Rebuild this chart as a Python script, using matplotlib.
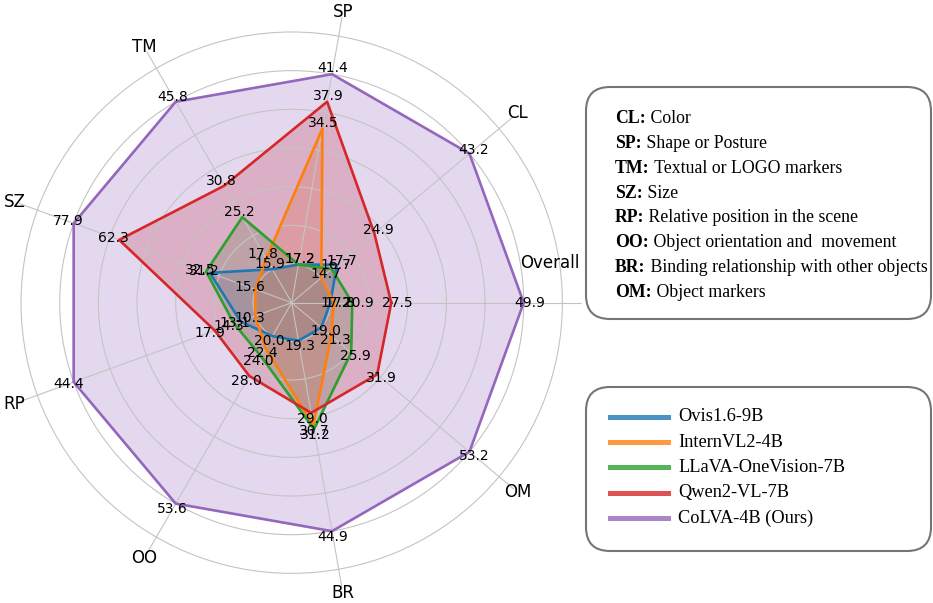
import numpy as np
import matplotlib.pyplot as plt
from matplotlib.patches import FancyBboxPatch
from matplotlib.lines import Line2D

# axes of the radar, counter-clockwise from the right
categories = ['Overall', 'CL', 'SP', 'TM', 'SZ', 'RP', 'OO', 'BR', 'OM']
models = ['Ovis1.6-9B', 'InternVL2-4B', 'LLaVA-OneVision-7B', 'Qwen2-VL-7B', 'CoLVA-4B (Ours)']
ovis = [17.2, 17.7, 17.2, 15.9, 31.2, 13.1, 20.0, 19.3, 19.0]
internvl = [17.8, 14.7, 34.5, 17.8, 15.6, 10.3, 22.4, 30.7, 21.3]
llava = [20.9, 16.7, 17.2, 25.2, 32.5, 14.3, 24.0, 31.2, 25.9]
qwen = [27.5, 24.9, 37.9, 30.8, 62.3, 17.9, 28.0, 29.0, 31.9]
colva = [49.9, 43.2, 41.4, 45.8, 77.9, 44.4, 53.6, 44.9, 53.2]
colors = ['#1f77b4', '#ff7f0e', '#2ca02c', '#d62728', '#9467bd']

abbr_keys = ['CL', 'SP', 'TM', 'SZ', 'RP', 'OO', 'BR', 'OM']
abbr_desc = ['Color', 'Shape or Posture', 'Textual or LOGO markers', 'Size',
             'Relative position in the scene', 'Object orientation and  movement',
             'Binding relationship with other objects', 'Object markers']

data = np.array([ovis, internvl, llava, qwen, colva])
lo = data.min(axis=0)
hi = data.max(axis=0)
norm = (data - lo) / (hi - lo)  # min-max per axis

n = len(categories)
angles = np.linspace(0, 2 * np.pi, n, endpoint=False)
closed = np.append(angles, angles[0])

fig = plt.figure(figsize=(9.33, 6.03), dpi=100)
ax = fig.add_axes([0.0018, 0.0171, 0.6217, 0.9619], polar=True)

for i, name in enumerate(models):
    vals = np.append(norm[i], norm[i][0])
    ax.plot(closed, vals, color=colors[i], linewidth=1.9, label=name)
    ax.fill(closed, vals, color=colors[i], alpha=0.25)
    for a, r, v in zip(angles, norm[i], data[i]):
        ax.text(a, r + 0.03, f'{v:.1f}', ha='center', va='center', fontsize=10)

ax.set_ylim(-0.2, 1.3)
ax.set_yticks(np.arange(0, 1.21, 0.2))
ax.set_yticklabels([])
ax.set_xticks(angles)
ax.set_xticklabels([''] + categories[1:], fontsize=12)
ax.tick_params(axis='x', pad=-7)
ax.grid(color='#c4c4c4', linewidth=0.8)
ax.spines['polar'].set_visible(False)
ax.text(np.deg2rad(8.8), 1.15, 'Overall', ha='center', va='center', fontsize=12)

# boxes on the right, positioned in pixels (inches * 100)
tr = fig.dpi_scale_trans
H = 6.03


def px(x, y):
    return x / 100, H - y / 100


serif = 'Liberation Serif'

b1 = FancyBboxPatch(px(586, 319), 3.45, 2.32, boxstyle='round,pad=0,rounding_size=0.24',
                    transform=tr, facecolor='white', edgecolor='#757575', linewidth=1.5)
fig.patches.append(b1)
renderer = fig.canvas.get_renderer()
for i, (k, d) in enumerate(zip(abbr_keys, abbr_desc)):
    x, y = px(615, 116.7 + i * 24.8)
    t = fig.text(x, y, k + ':', transform=tr, family=serif, fontweight='bold',
                 fontsize=12.8, ha='left', va='center_baseline')
    bb = t.get_window_extent(renderer)
    fig.text(bb.x1 / 100, y, ' ' + d, transform=tr, family=serif, fontsize=12.8,
             ha='left', va='center_baseline')

b2 = FancyBboxPatch(px(586, 551), 3.45, 1.64, boxstyle='round,pad=0,rounding_size=0.24',
                    transform=tr, facecolor='white', edgecolor='#757575', linewidth=1.5)
fig.patches.append(b2)
for i, name in enumerate(models):
    x0, y = px(610, 416.7 + i * 25.4)
    x1, _ = px(668, 0)
    fig.add_artist(Line2D([x0, x1], [y, y], transform=tr, color=colors[i],
                          linewidth=3.6, alpha=0.8))
    fig.text(px(678, 0)[0], y, name, transform=tr, family=serif, fontsize=13.2,
             ha='left', va='center')

fig.savefig('out.png', dpi=100)
